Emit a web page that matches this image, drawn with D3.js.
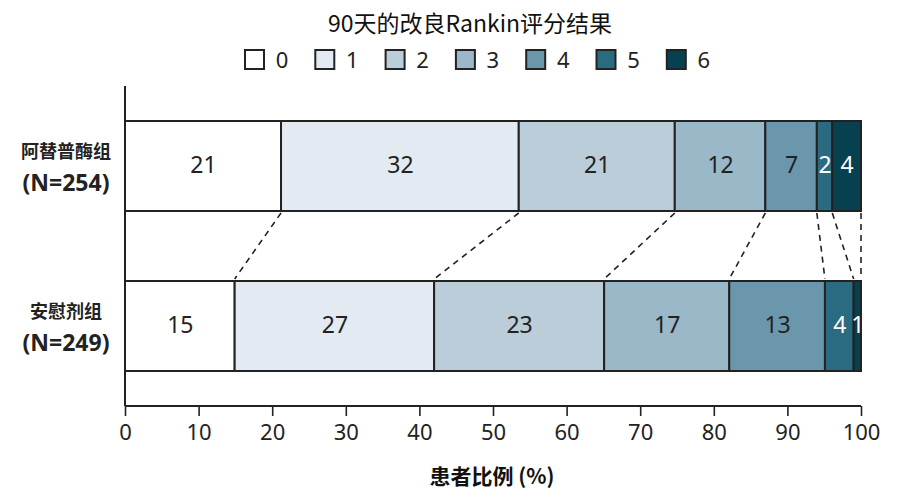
<!DOCTYPE html>
<html><head><meta charset="utf-8">
<script src="https://cdn.jsdelivr.net/npm/d3@7"></script>
<style>
body{margin:0;background:#fff;}
svg{display:block;}
.num{font-family:"Noto Sans","Open Sans",sans-serif;}
.cjk{font-family:"Noto Sans CJK SC","Noto Sans",sans-serif;}
</style></head>
<body>
<script>
const categories = ["0","1","2","3","4","5","6"];
const groups = ["阿替普酶组","安慰剂组"];
const groupN = ["(N=254)","(N=249)"];
const alteplaseValues = [21.2, 32.3, 21.2, 12.3, 7.0, 2.1, 3.9];
const alteplaseLabels = ["21","32","21","12","7","2","4"];
const placeboValues = [14.9, 27.1, 23.1, 17.0, 13.0, 3.9, 1.0];
const placeboLabels = ["15","27","23","17","13","4","1"];
const xTicks = [0,10,20,30,40,50,60,70,80,90,100];
const colors = ["#ffffff","#e3eaf1","#bacdd8","#9bb8c8","#6a97ab","#2a6b82","#07404f"];
const labelColors = ["#222","#222","#222","#222","#222","#fff","#fff"];

const W=900,H=500;
const svg=d3.select("body").append("svg").attr("width",W).attr("height",H);

const x=d3.scaleLinear().domain([0,100]).range([125,861]);
const y=d3.scaleBand().domain(groups).range([86,406]).paddingInner(0.4375).paddingOuter(0.21875);

// title
svg.append("text").attr("class","cjk").attr("x",470).attr("y",32).attr("text-anchor","middle")
  .attr("font-size",23).attr("font-weight","normal").attr("fill","#111").text("90天的改良Rankin评分结果");

// legend
const lg=svg.append("g");
categories.forEach((c,i)=>{
  const lx=245+i*70.3;
  lg.append("rect").attr("x",lx).attr("y",50).attr("width",19).attr("height",19)
    .attr("fill",colors[i]).attr("stroke","#222").attr("stroke-width",2);
  lg.append("text").attr("class","num").attr("x",lx+37).attr("y",68).attr("text-anchor","middle")
    .attr("font-size",22).attr("fill","#222").text(c);
});

const data=[alteplaseValues,placeboValues];
const labels=[alteplaseLabels,placeboLabels];
const stacks=data.map(v=>{let s=0;return v.map(d=>{const o={x0:s,x1:s+d};s+=d;return o;});});

// connectors
const stTop=stacks[0], stBot=stacks[1];
const yb0=y(groups[0])+y.bandwidth(), yt1=y(groups[1]);
for(let i=0;i<stTop.length;i++){
  svg.append("line").attr("x1",x(stTop[i].x1)).attr("y1",yb0+2).attr("x2",x(stBot[i].x1)).attr("y2",yt1-2)
    .attr("stroke","#222").attr("stroke-width",1.6).attr("stroke-dasharray","6,5");
}

// bars
stacks.forEach((st,gi)=>{
  const g=svg.append("g");
  st.forEach((s,i)=>{
    g.append("rect").attr("x",x(s.x0)).attr("y",y(groups[gi])).attr("width",x(s.x1)-x(s.x0))
      .attr("height",y.bandwidth()).attr("fill",colors[i]).attr("stroke","#222").attr("stroke-width",2);
  });
  st.forEach((s,i)=>{
    g.append("text").attr("class","num").attr("x",(x(s.x0)+x(s.x1))/2+0.5)
      .attr("y",y(groups[gi])+y.bandwidth()/2+7).attr("text-anchor","middle")
      .attr("font-size",23).attr("fill",labelColors[i]).text(labels[gi][i]);
  });
});

// y labels
groups.forEach((gname,gi)=>{
  const cy=y(gname)+y.bandwidth()/2;
  svg.append("text").attr("class","cjk").attr("x",66).attr("y",cy-8).attr("text-anchor","middle")
    .attr("font-size",18).attr("font-weight","bold").attr("fill","#222").text(gname);
  svg.append("text").attr("x",66).attr("y",cy+25).attr("text-anchor","middle")
    .attr("font-family","'Open Sans','Noto Sans',sans-serif")
    .attr("font-size",23).attr("font-weight","bold").attr("fill","#222").text(groupN[gi]);
});

// axes
svg.append("line").attr("x1",125).attr("x2",125).attr("y1",86).attr("y2",406).attr("stroke","#222").attr("stroke-width",2);
const ax=svg.append("g").attr("transform","translate(0,406)")
  .call(d3.axisBottom(x).tickValues(xTicks).tickSize(10).tickPadding(8));
ax.select(".domain").attr("stroke","#222").attr("stroke-width",2).attr("d","M125,0H861");
ax.selectAll(".tick line").attr("stroke","#222").attr("stroke-width",1.6);
ax.selectAll(".tick text").attr("class","num").attr("font-size",22).attr("fill","#222");

svg.append("text").attr("class","cjk").attr("x",492).attr("y",484).attr("text-anchor","middle")
  .attr("font-size",21).attr("font-weight","bold").attr("fill","#111").text("患者比例 (%)");
</script>
</body></html>
